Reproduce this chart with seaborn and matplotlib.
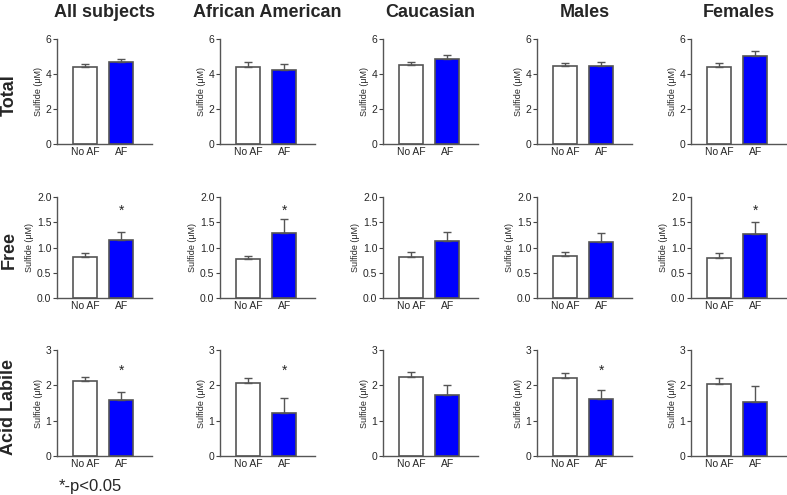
import numpy as np
import matplotlib
matplotlib.use("Agg")
import matplotlib.pyplot as plt
import pandas as pd
import seaborn as sns

# 数据
groups = ["All subjects", "African American", "Caucasian", "Males", "Females"]
measures = ["Total", "Free", "Acid Labile"]
conditions = ["No AF", "AF"]

total_noaf = [4.42, 4.42, 4.50, 4.43, 4.40]
total_noaf_err = [0.15, 0.25, 0.17, 0.20, 0.20]
total_af = [4.68, 4.22, 4.87, 4.48, 5.02]
total_af_err = [0.17, 0.35, 0.20, 0.22, 0.30]

free_noaf = [0.82, 0.77, 0.82, 0.83, 0.80]
free_noaf_err = [0.07, 0.06, 0.10, 0.08, 0.10]
free_af = [1.15, 1.28, 1.12, 1.10, 1.26]
free_af_err = [0.15, 0.28, 0.18, 0.18, 0.25]

acid_noaf = [2.13, 2.08, 2.25, 2.22, 2.03]
acid_noaf_err = [0.10, 0.14, 0.14, 0.14, 0.18]
acid_af = [1.58, 1.22, 1.72, 1.62, 1.52]
acid_af_err = [0.23, 0.42, 0.28, 0.25, 0.45]

# 显著性标记 (p<0.05)
sig_free = [True, True, False, False, True]
sig_acid = [True, True, False, True, False]
sig_total = [False] * 5

y_max = {"Total": 6, "Free": 2.0, "Acid Labile": 3}
y_ticks = {"Total": [0, 2, 4, 6], "Free": [0.0, 0.5, 1.0, 1.5, 2.0], "Acid Labile": [0, 1, 2, 3]}
y_fmt = {"Total": "{:.0f}", "Free": "{:.1f}", "Acid Labile": "{:.0f}"}

rows = []
for m, (na, nae, a, ae, sig) in zip(measures, [
        (total_noaf, total_noaf_err, total_af, total_af_err, sig_total),
        (free_noaf, free_noaf_err, free_af, free_af_err, sig_free),
        (acid_noaf, acid_noaf_err, acid_af, acid_af_err, sig_acid)]):
    for i, g in enumerate(groups):
        rows.append({"measure": m, "group": g, "condition": "No AF", "mean": na[i], "sem": nae[i], "sig": False})
        rows.append({"measure": m, "group": g, "condition": "AF", "mean": a[i], "sem": ae[i], "sig": sig[i]})
df = pd.DataFrame(rows)

sns.set_style("ticks")
plt.rcParams["font.family"] = ["Liberation Sans", "DejaVu Sans"]

W, H = 787, 495
fig = plt.figure(figsize=(W / 100, H / 100), dpi=100)

# 面板像素位置
col_left = [57, 220, 383, 537, 691]
col_width = 95
row_top = [39, 197, 350]
row_bottom = [144, 298, 456]

palette = {"No AF": "white", "AF": "#0000ff"}
edge = "#555555"

for r, m in enumerate(measures):
    for c, g in enumerate(groups):
        ax = fig.add_axes([col_left[c] / W, 1 - row_bottom[r] / H,
                           col_width / W, (row_bottom[r] - row_top[r]) / H])
        sub = df[(df.measure == m) & (df.group == g)]
        sns.barplot(data=sub, x="condition", y="mean", hue="condition", order=conditions,
                    palette=palette, edgecolor=edge, linewidth=1.2, width=0.65,
                    saturation=1, legend=False, errorbar=None, ax=ax)
        for k, cond in enumerate(conditions):
            row = sub[sub.condition == cond].iloc[0]
            ax.errorbar(k, row["mean"], yerr=[[0], [row["sem"]]], color=edge,
                        capsize=3, elinewidth=1.0, capthick=1.0, zorder=1)
            if row["sig"]:
                ax.text(k, y_max[m] * (0.86 if m == "Free" else 0.80), "*",
                        ha="center", va="center", fontsize=10)
        ax.set_xlim(-0.77, 1.85)
        ax.set_ylim(0, y_max[m])
        ax.set_yticks(y_ticks[m])
        ax.set_yticklabels([y_fmt[m].format(t) for t in y_ticks[m]], fontsize=7.5)
        ax.tick_params(axis="y", length=3, width=0.8, pad=1, color="#444444")
        ax.tick_params(axis="x", length=0, pad=2, labelsize=7.5)
        ax.set_xlabel("")
        ax.set_ylabel("Sulfide (μM)", fontsize=6.5, labelpad=2)
        for s in ["top", "right"]:
            ax.spines[s].set_visible(False)
        for s in ["left", "bottom"]:
            ax.spines[s].set_color("#555555")
            ax.spines[s].set_linewidth(1.0)
        if r == 0:
            ax.set_title(g, fontsize=13, fontweight="bold", pad=16)

# 行标签
row_center = [95, 250, 407]
for r, m in enumerate(measures):
    fig.text(9 / W, 1 - row_center[r] / H, m, rotation=90, ha="center", va="center",
             fontsize=13, fontweight="bold")

fig.text(90 / W, 1 - 486 / H, "*-p<0.05", ha="center", va="center", fontsize=12)

fig.savefig("out.png", dpi=100)
